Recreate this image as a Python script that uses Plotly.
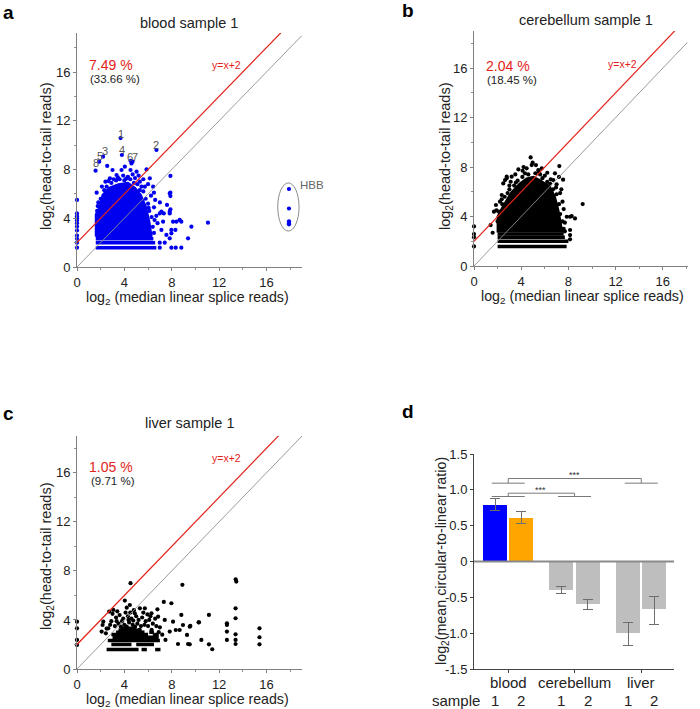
import plotly.graph_objects as go

W, H = 700, 709
FONT = "Liberation Sans, Arial, sans-serif"
RED = "#e2231a"

# ---------------- panel a : blood sample 1 ----------------
blood_pts_x = [3.68, 6.71, 2.2, 3.79, 1.88, 4.52, 4.69, 1.57,
               2.55, 3.0, 3.76, 4.04, 4.52, 5.03, 5.87, 3.34, 2.78, 6.15, 5.31, 6.43, 5.73, 1.66,
               4.6, 3.9, 4.3, 4.9, 2.4, 2.1, 5.6, 6.0, 3.1, 4.7, 5.2,
               7.83, 7.83, 6.99, 7.27, 7.97, 7.13, 7.55, 7.83, 8.4, 7.89, 7.89, 7.89, 7.6, 7.89,
               7.83, 7.33, 7.13, 8.11, 8.67, 8.81, 9.66, 9.38, 8.31, 7.97, 7.97, 8.34, 6.99,
               7.41, 6.99, 11.06, 8.81, 6.6, 6.5, 6.7, 6.8, 6.5, 7.0,
               1.7, 1.8, 2.0, 2.3, 2.5, 2.9, 3.3, 3.6, 4.0, 4.5, 4.8, 5.1, 5.3, 5.6, 5.8, 6.0,
               6.1, 6.3, 6.4, 6.5, 1.75, 2.65, 3.45, 4.15, 5.45, 6.25, 6.55, 6.05,
               17.9, 17.9, 17.9, 17.9, 17.9,
               0, 0, 0, 0, 0, 0, 0, 0, 0, 0, 0, 0]
blood_pts_y = [10.58, 9.6, 9.05, 9.19, 8.64, 8.72, 8.64, 7.9,
               8.29, 7.96, 7.96, 8.23, 7.96, 7.82, 8.01, 7.55, 7.28, 7.28, 7.0, 6.59, 6.59, 6.1,
               8.5, 7.5, 7.4, 7.3, 7.0, 6.6, 7.2, 6.8, 7.2, 7.6, 7.5,
               6.04, 4.54, 4.4, 3.72, 3.04, 3.04, 2.63, 2.35, 3.72, 7.47, 6.1, 5.82, 5.09, 4.73,
               4.4, 4.4, 4.54, 3.72, 3.86, 3.72, 3.31, 2.35, 3.04, 2.76, 1.585, 1.585, 2.0,
               2.0, 1.585, 3.64, 1.585, 5.5, 4.9, 4.2, 3.6, 6.1, 5.3,
               4.6, 5.3, 5.6, 6.3, 6.6, 6.9, 7.1, 7.2, 7.1, 7.2, 6.9, 6.8, 6.3, 6.2, 5.6, 5.2,
               4.6, 4.1, 3.3, 2.8, 5.0, 7.05, 7.35, 7.25, 6.6, 5.85, 3.85, 4.85,
               6.4, 4.8, 3.75, 3.6, 3.5,
               5.5, 4.4, 4.17, 4.0, 3.81, 3.58, 3.32, 3.0, 2.585, 2.32, 2.0, 1.585]
blood_core_x = [1.585, 1.585, 1.9, 2.15, 2.7, 3.5, 4.3, 4.9, 5.4, 5.8, 6.1, 6.3]
blood_core_y = [2.5, 4.3, 4.9, 5.9, 6.5, 6.8, 6.9, 6.5, 5.9, 5.0, 3.8, 2.5]
blood_stripe_y = [1.585, 2.0, 2.32, 2.585]
blood_stripe_x0 = [1.585, 1.585, 1.585, 1.585]
blood_stripe_x1 = [6.7, 6.6, 6.45, 6.35]
blood_label_text = ["1", "2", "3", "4", "5", "6", "7", "8"]
blood_label_x = [3.69, 6.71, 2.36, 3.77, 1.94, 4.46, 4.89, 1.62]
blood_label_y = [10.95, 10.0, 9.5, 9.6, 9.1, 9.05, 9.05, 8.5]

# ---------------- panel b : cerebellum sample 1 ----------------
cereb_pts_x = [4.8, 4.97, 4.89, 5.25, 3.76, 4.12, 4.46, 4.32, 5.74, 7.23, 6.21, 2.63, 2.77,
               3.19, 2.48, 2.35, 1.86, 1.41, 1.58, 6.86, 6.72, 7.86, 8.14, 8.14, 8.14, 8.28,
               9.21, 8.56, 8.14, 1.69, 2.35, 2.77, 3.11, 3.5, 5.5, 6.0, 6.5, 7.0, 7.3, 7.5,
               7.6, 7.7, 4.2, 5.6, 3.0, 2.2, 1.9, 7.2, 7.55, 7.4,
               2.1, 2.4, 2.6, 3.0, 3.4, 3.7, 4.1, 4.6, 5.2, 5.8, 6.2, 6.7, 7.0, 7.2, 7.3, 7.5,
               7.6, 7.7, 2.0, 2.85, 3.55, 5.45, 6.45, 6.95,
               0, 0, 0, 0]
cereb_pts_y = [8.78, 8.35, 8.16, 8.16, 7.81, 7.7, 7.9, 7.49, 7.9, 8.08, 7.54, 6.95, 7.22,
               7.22, 6.68, 5.74, 4.93, 3.31, 2.69, 7.49, 6.95, 3.98, 2.91, 2.5, 2.16, 4.04,
               5.01, 3.85, 3.98, 4.39, 5.39, 7.09, 6.81, 7.4, 7.6, 7.3, 7.0, 6.6, 5.9, 5.2,
               4.6, 3.5, 8.0, 7.4, 6.5, 5.2, 4.5, 7.2, 6.98, 6.2,
               4.4, 5.0, 5.6, 6.2, 6.5, 6.9, 7.2, 7.4, 7.5, 7.1, 6.8, 6.2, 5.8, 5.0, 4.2, 3.6,
               3.0, 2.8, 3.6, 5.9, 6.75, 7.75, 6.65, 6.35,
               3.2, 2.585, 2.32, 1.585]
cereb_core_x = [2.0, 2.0, 2.35, 2.77, 3.19, 3.9, 4.46, 5.03, 5.59, 6.44, 6.86, 7.15, 7.43, 7.5]
cereb_core_y = [2.7, 4.0, 4.66, 5.33, 6.0, 6.68, 7.08, 7.22, 6.95, 6.41, 5.6, 4.53, 3.18, 2.7]
cereb_stripe_y = [1.585, 2.0, 2.32, 2.585]
cereb_stripe_x0 = [2.0, 2.0, 2.0, 2.0]
cereb_stripe_x1 = [7.85, 8.0, 7.7, 7.6]

# ---------------- panel c : liver sample 1 ----------------
liver_pts_x = [4.52, 8.9, 4.04, 2.72, 3.06, 4.46, 5.31, 5.73, 4.88, 6.29, 6.79, 7.33, 7.97,
               6.85, 7.41, 8.11, 8.81, 8.95, 9.52, 10.3, 7.83, 8.34, 8.67, 9.29, 8.53, 9.38,
               7.47, 2.22, 2.16, 2.08, 2.44, 2.64,
               13.4, 13.45, 13.39, 13.39, 13.39, 13.39, 13.39, 12.66, 12.66, 12.66, 12.66,
               15.41, 15.41, 15.41, 11.14, 10.27, 9.57, 10.5, 11.14, 11.42, 9.52,
               0, 0, 0, 0,
               3.3, 3.6, 3.9, 4.1, 4.3, 4.6, 4.8, 5.0, 5.2, 5.5, 5.8, 6.1, 6.4, 6.7, 3.5, 3.8,
               4.0, 4.4, 4.7, 5.1, 5.4, 5.7, 6.0, 3.2, 2.9, 3.0, 3.4, 4.2, 4.5, 5.6, 6.2, 6.6,
               7.0, 6.9, 7.2, 2.8, 2.5, 3.7, 4.2, 4.9, 5.3, 6.3, 3.35, 4.75, 5.95, 4.35]
liver_pts_y = [7.0, 6.86, 5.58, 4.68, 4.82, 5.22, 4.95, 4.95, 4.54, 4.54, 4.87, 5.47, 5.36,
               4.27, 4.0, 3.86, 4.41, 3.59, 3.45, 3.81, 3.05, 3.18, 3.18, 2.78, 2.04, 2.04,
               2.37, 3.86, 3.59, 3.05, 2.91, 3.32,
               7.32, 7.13, 4.95, 4.14, 2.83, 2.37, 2.04, 3.73, 3.59, 3.05, 2.37,
               3.32, 2.59, 2.01, 4.41, 3.81, 3.51, 2.37, 2.01, 1.61, 2.01,
               3.86, 3.32, 2.37, 1.96,
               4.2, 4.4, 4.1, 4.6, 4.3, 4.1, 4.8, 4.3, 4.0, 4.2, 3.9, 4.0, 3.7, 3.5, 3.7, 3.9,
               3.6, 3.8, 3.6, 3.7, 3.5, 3.6, 3.5, 3.5, 3.9, 4.5, 4.7, 5.0, 4.6, 4.6, 4.3, 4.1,
               3.4, 3.0, 2.8, 3.6, 3.3, 3.45, 3.45, 3.45, 3.2, 3.2, 3.9, 3.95, 4.45, 4.0]
liver_stripe_y = [1.585, 1.585, 1.585, 2.0, 2.0, 2.32, 2.585, 2.807, 2.807, 3.0, 3.0, 3.17, 3.32]
liver_stripe_x0 = [2.5, 5.45, 6.6, 2.9, 5.0, 2.6, 3.0, 2.9, 6.4, 3.3, 6.1, 3.5, 3.7]
liver_stripe_x1 = [5.2, 5.9, 7.05, 4.6, 6.5, 7.0, 6.9, 6.0, 6.9, 5.7, 6.5, 5.4, 5.0]

# ---------------- panel d : bar chart ----------------
bar_groups = ["blood", "cerebellum", "liver"]
bar_samples = ["1", "2", "1", "2", "1", "2"]
bar_values = [0.786, 0.609, -0.391, -0.595, -1.0, -0.66]
bar_err_plus = [0.088, 0.084, 0.042, 0.069, 0.149, 0.172]
bar_err_minus = [0.079, 0.083, 0.051, 0.070, 0.167, 0.214]
bar_colors = ["#0000ff", "#ffa500", "#bebebe", "#bebebe", "#bebebe", "#bebebe"]
pct_main = ["7.49 %", "2.04 %", "1.05 %"]
pct_sub = ["(33.66 %)", "(18.45 %)", "(9.71 %)"]
titles = ["blood sample 1", "cerebellum sample 1", "liver sample 1"]

# layout constants for panel d
group_centers = [1.37, 4.02, 6.69]
bar_offset = 0.525
bar_pos = []
for g in group_centers:
    bar_pos += [g - bar_offset, g + bar_offset]

fig = go.Figure()


def stripes(ys, x0s, x1s):
    xs, yy = [], []
    for y, a, b in zip(ys, x0s, x1s):
        xs += [a, b, None]
        yy += [y, y, None]
    return xs, yy


panels = [
    ("x", "y", "#0000ee", blood_core_x, blood_core_y, blood_stripe_y, blood_stripe_x0,
     blood_stripe_x1, blood_pts_x, blood_pts_y),
    ("x2", "y2", "#000000", cereb_core_x, cereb_core_y, cereb_stripe_y, cereb_stripe_x0,
     cereb_stripe_x1, cereb_pts_x, cereb_pts_y),
    ("x3", "y3", "#000000", None, None, liver_stripe_y, liver_stripe_x0,
     liver_stripe_x1, liver_pts_x, liver_pts_y),
]
diag_end = [19, 18.1, 19]
for i, (xa, ya, col, cx, cy, sy, sx0, sx1, px, py) in enumerate(panels):
    if cx is not None:
        fig.add_trace(go.Scatter(x=cx, y=cy, fill="toself", fillcolor=col, mode="lines",
                                 line=dict(color=col, width=2), xaxis=xa, yaxis=ya,
                                 hoverinfo="skip"))
    sxs, sys_ = stripes(sy, sx0, sx1)
    fig.add_trace(go.Scatter(x=sxs, y=sys_, mode="lines", line=dict(color=col, width=3.5),
                             xaxis=xa, yaxis=ya, hoverinfo="skip"))
    fig.add_trace(go.Scatter(x=px, y=py, mode="markers",
                             marker=dict(color=col, size=4.2, line=dict(width=0)),
                             xaxis=xa, yaxis=ya, cliponaxis=False))
    e = diag_end[i]
    fig.add_trace(go.Scatter(x=[0, e], y=[0, e], mode="lines",
                             line=dict(color="#909090", width=0.9), xaxis=xa, yaxis=ya,
                             hoverinfo="skip"))
    fig.add_trace(go.Scatter(x=[0, 17.3], y=[2, 19.3], mode="lines",
                             line=dict(color=RED, width=1.2), xaxis=xa, yaxis=ya,
                             hoverinfo="skip"))

# bars
fig.add_trace(go.Bar(x=bar_pos, y=bar_values, width=0.96, marker=dict(color=bar_colors, line=dict(width=0)),
                     error_y=dict(type="data", symmetric=False, array=bar_err_plus,
                                  arrayminus=bar_err_minus, color="#6e6e6e", thickness=1.1, width=5),
                     xaxis="x4", yaxis="y4"))

sc_axis = dict(showline=True, linecolor="#808080", linewidth=1, ticks="outside", ticklen=3,
               tickcolor="#808080", tickvals=[0, 4, 8, 12, 16], showgrid=False, zeroline=False,
               tickfont=dict(size=13, color="#222"), automargin=False,
               minor=dict(tickvals=[2, 6, 10, 14, 18], ticks="outside", ticklen=2,
                          tickcolor="#909090"))

fig.update_layout(
    template="none",
    width=W, height=H, margin=dict(l=0, r=0, t=0, b=0, pad=0), showlegend=False,
    plot_bgcolor="white", paper_bgcolor="white", font=dict(family=FONT, color="#222"),
    xaxis=dict(sc_axis, domain=[77 / W, 302 / W], range=[0, 19], anchor="y"),
    yaxis=dict(sc_axis, domain=[1 - 267 / H, 1 - 33 / H], range=[0, 19.2], anchor="x"),
    xaxis2=dict(sc_axis, domain=[474 / W, 687.6 / W], range=[0, 18.1], anchor="y2"),
    yaxis2=dict(sc_axis, domain=[1 - 266 / H, 1 - 31 / H], range=[0, 19], anchor="x2"),
    xaxis3=dict(sc_axis, domain=[77 / W, 302 / W], range=[0, 19], anchor="y3"),
    yaxis3=dict(sc_axis, domain=[1 - 669 / H, 1 - 436 / H], range=[0, 19], anchor="x3"),
    xaxis4=dict(domain=[474 / W, 674 / W], range=[0, 8], anchor="y4", showline=True,
                linecolor="#444", linewidth=1, ticks="outside", ticklen=3, tickcolor="#444",
                tickvals=group_centers, showticklabels=False, showgrid=False, zeroline=False,
                automargin=False),
    yaxis4=dict(domain=[1 - 669 / H, 1 - 454 / H], range=[-1.5, 1.5], anchor="x4",
                showline=True, linecolor="#444", linewidth=1, ticks="outside", ticklen=3,
                tickcolor="#444", tickvals=[-1.5, -1, -0.5, 0, 0.5, 1, 1.5],
                ticktext=["-1.5", "-1.0", "-0.5", "0", "0.5", "1.0", "1.5"],
                tickfont=dict(size=13, color="#222"), showgrid=False, zeroline=False,
                automargin=False),
    bargap=0,
)

shapes = []
# HBB ellipse
shapes.append(dict(type="circle", xref="x", yref="y", x0=16.95, x1=18.75, y0=2.95, y1=6.9,
                   line=dict(color="#8c8c8c", width=1)))
# zero line panel d
shapes.append(dict(type="line", xref="x4", yref="y4", x0=0, x1=8, y0=0, y1=0,
                   line=dict(color="#8a8a8a", width=2.2)))
# significance brackets
BR = "#7a7a7a"
half = 0.66
for (g1, g2, lo, hi) in [(group_centers[0], group_centers[2], 1.093, 1.158),
                         (group_centers[0], group_centers[1], 0.907, 0.953)]:
    for g in (g1, g2):
        shapes.append(dict(type="line", xref="x4", yref="y4", x0=g - half, x1=g + half,
                           y0=lo, y1=lo, line=dict(color=BR, width=1)))
        shapes.append(dict(type="line", xref="x4", yref="y4", x0=g, x1=g, y0=lo, y1=hi,
                           line=dict(color=BR, width=1)))
    shapes.append(dict(type="line", xref="x4", yref="y4", x0=g1, x1=g2, y0=hi, y1=hi,
                       line=dict(color=BR, width=1)))
fig.update_layout(shapes=shapes)

ann = []


def pa(px, py, text, size, color="#222", bold=False, xanchor="center", angle=0):
    if bold:
        text = "<b>" + text + "</b>"
    ann.append(dict(x=px / W, y=1 - py / H, xref="paper", yref="paper", text=text,
                    showarrow=False, font=dict(size=size, color=color, family=FONT),
                    xanchor=xanchor, yanchor="middle", textangle=angle))


def da(xa, ya, x, y, text, size, color, xanchor="center"):
    ann.append(dict(x=x, y=y, xref=xa, yref=ya, text=text, showarrow=False,
                    font=dict(size=size, color=color, family=FONT), xanchor=xanchor,
                    yanchor="middle"))


# panel letters
pa(8, 12.5, "a", 19, "#000", True)
pa(408, 11, "b", 19, "#000", True)
pa(8, 413.5, "c", 19, "#000", True)
pa(408.5, 411.5, "d", 19, "#000", True)
# titles
pa(189, 23, titles[0], 14.5)
pa(586, 20, titles[1], 14.5)
pa(189, 423, titles[2], 14.5)
# axis titles
xt = "log<sub>2</sub> (median linear splice reads)"
yt = "log<sub>2</sub>(head-to-tail reads)"
pa(187, 298, xt, 14.2)
pa(582, 297, xt, 14.2)
pa(187, 700, xt, 14.2)
pa(47, 156, yt, 14.5, angle=-90)
pa(446, 156, yt, 14.5, angle=-90)
pa(47, 556, yt, 14.5, angle=-90)
pa(442, 561, "log<sub>2</sub>(mean circular-to-linear ratio)", 14.3, angle=-90)

# percentages
for i, (xa, ya, ym, ys, yx) in enumerate([("x", "y", 16.6, 15.4, 16.6),
                                          ("x2", "y2", 16.2, 15.0, 16.3),
                                          ("x3", "y3", 16.5, 15.3, 17.2)]):
    da(xa, ya, 2.9, ym, pct_main[i], 14, RED)
    da(xa, ya, 3.25 if i < 2 else 3.0, ys, pct_sub[i], 11.5, "#222")
    da(xa, ya, 12.6, yx, "y=x+2", 10.5, RED)

# numbered labels in panel a
for t, x, y in zip(blood_label_text, blood_label_x, blood_label_y):
    da("x", "y", x, y, t, 11, "#555")
da("x", "y", 18.66, 6.7, "HBB", 11.5, "#666", xanchor="left")

# panel d significance stars
da("x4", "y4", 4.0, 1.205, "***", 9, "#333")
da("x4", "y4", 2.67, 0.995, "***", 9, "#333")

# panel d category labels
for g, name in zip(group_centers, bar_groups):
    ann.append(dict(x=g, y=1 - 682 / H, xref="x4", yref="paper", text=name, showarrow=False,
                    font=dict(size=15, color="#222", family=FONT), yanchor="middle"))
pa(456, 700, "sample", 15)
for p, s in zip(bar_pos, bar_samples):
    ann.append(dict(x=p, y=1 - 700 / H, xref="x4", yref="paper", text=s, showarrow=False,
                    font=dict(size=15, color="#222", family=FONT), yanchor="middle"))

fig.update_layout(annotations=ann)
fig.write_html("out.html", config={"displayModeBar": False},
               post_script="document.body.style.margin='0';document.body.style.padding='0';"
                           "document.body.style.overflow='hidden';")
